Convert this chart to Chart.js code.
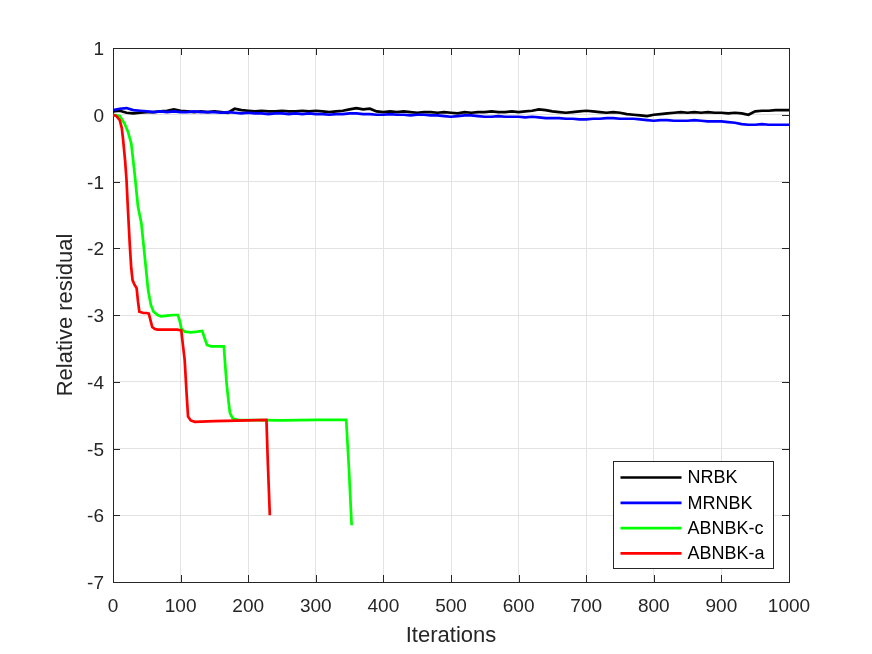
<!DOCTYPE html>
<html><head><meta charset="utf-8">
<script src="https://cdn.jsdelivr.net/npm/chart.js@4"></script>
<style>html,body{margin:0;padding:0;background:#fff}canvas{display:block}</style>
</head><body>
<canvas id="c" width="872" height="654" style="width:872px;height:654px"></canvas>
<script>
const seriesNames = ['NRBK', 'MRNBK', 'ABNBK-c', 'ABNBK-a'];
const seriesColors = ['#000000', '#0000ff', '#00ff00', '#ff0000'];
const xTicks = [0, 100, 200, 300, 400, 500, 600, 700, 800, 900, 1000];
const yTicks = [-7, -6, -5, -4, -3, -2, -1, 0, 1];
const xLabel = 'Iterations';
const yLabel = 'Relative residual';

const iterX = [0,10,20,30,40,50,60,70,80,90,100,110,120,130,140,150,160,170,180,190,
  200,210,220,230,240,250,260,270,280,290,300,310,320,330,340,350,360,370,380,390,
  400,410,420,430,440,450,460,470,480,490,500,510,520,530,540,550,560,570,580,590,
  600,610,620,630,640,650,660,670,680,690,700,710,720,730,740,750,760,770,780,790,
  800,810,820,830,840,850,860,870,880,890,900,910,920,930,940,950,960,970,980,990,1000];
const nrbkY = [0.05,0.06,0.03,0.02,0.03,0.04,0.04,0.05,0.06,0.08,0.06,0.05,0.04,0.05,0.04,0.05,0.04,0.03,0.09,0.07,
  0.06,0.05,0.06,0.05,0.05,0.06,0.05,0.05,0.06,0.05,0.06,0.05,0.04,0.05,0.06,0.08,0.10,0.08,0.09,0.05,
  0.04,0.05,0.04,0.05,0.04,0.03,0.04,0.04,0.03,0.04,0.03,0.02,0.04,0.03,0.04,0.04,0.05,0.04,0.04,0.05,
  0.04,0.05,0.06,0.08,0.07,0.05,0.04,0.03,0.04,0.05,0.06,0.05,0.04,0.03,0.04,0.03,0.01,0.00,-0.01,-0.02,
  0.00,0.01,0.02,0.03,0.04,0.03,0.04,0.03,0.04,0.03,0.03,0.02,0.03,0.02,0.00,0.05,0.06,0.06,0.07,0.07,0.07];
const mrnbkY = [0.07,0.09,0.10,0.07,0.06,0.05,0.04,0.05,0.04,0.05,0.04,0.04,0.05,0.04,0.04,0.04,0.03,0.04,0.03,0.02,
  0.03,0.02,0.02,0.01,0.02,0.02,0.01,0.02,0.01,0.02,0.01,0.01,0.00,0.01,0.01,0.02,0.02,0.01,0.01,0.00,
  0.00,0.01,0.00,0.00,-0.01,0.00,0.00,-0.01,-0.01,-0.02,-0.03,-0.02,-0.01,-0.01,-0.02,-0.03,-0.03,-0.02,-0.03,-0.03,
  -0.03,-0.04,-0.03,-0.04,-0.05,-0.05,-0.05,-0.06,-0.06,-0.07,-0.07,-0.06,-0.06,-0.05,-0.05,-0.06,-0.06,-0.06,-0.07,-0.08,
  -0.09,-0.08,-0.08,-0.09,-0.09,-0.09,-0.08,-0.09,-0.10,-0.10,-0.10,-0.11,-0.12,-0.14,-0.15,-0.15,-0.14,-0.15,-0.15,-0.15,-0.15];
const abnbkcX = [0,10,17,22,27,32,37,42,47,52,56,60,66,71,80,90,96,99,101,106,115,125,132,135,139,145,155,164,166,168,171,173,177,185,250,300,345,349,353];
const abnbkcY = [0,-0.02,-0.13,-0.25,-0.43,-0.88,-1.38,-1.63,-2.13,-2.63,-2.85,-2.95,-3.0,-3.02,-3.01,-3.0,-3.0,-3.1,-3.2,-3.25,-3.26,-3.25,-3.24,-3.33,-3.45,-3.47,-3.47,-3.47,-3.75,-4.02,-4.3,-4.47,-4.55,-4.57,-4.58,-4.57,-4.57,-5.3,-6.15];
const abnbkaX = [0,5,10,13,15,18,20,22,25,27,29,32,35,37,39,45,50,53,56,58,62,66,80,95,101,104,106,109,111,115,121,150,200,227,229,232];
const abnbkaY = [0,-0.02,-0.08,-0.2,-0.38,-0.7,-0.98,-1.4,-1.98,-2.3,-2.48,-2.55,-2.6,-2.8,-2.95,-2.97,-2.97,-2.98,-3.1,-3.18,-3.21,-3.22,-3.22,-3.22,-3.23,-3.5,-3.67,-4.2,-4.52,-4.58,-4.6,-4.59,-4.58,-4.57,-5.2,-6.0];

const FONT = "'Liberation Sans', Arial, Helvetica, sans-serif";
const AX = '#262626';
const pts = (xs, ys) => xs.map((v, i) => ({x: v, y: ys[i]}));
const seriesData = [pts(iterX, nrbkY), pts(iterX, mrnbkY), pts(abnbkcX, abnbkcY), pts(abnbkaX, abnbkaY)];

const matlabAxes = {
  id: 'matlabAxes',
  beforeDatasetsDraw(chart) {
    const {ctx, chartArea: a, scales: {x, y}} = chart;
    ctx.save();
    ctx.strokeStyle = AX; ctx.lineWidth = 1;
    ctx.beginPath();
    const tl = 7;
    xTicks.forEach(v => {
      const p = Math.round(x.getPixelForValue(v)) + 0.5;
      ctx.moveTo(p, a.bottom); ctx.lineTo(p, a.bottom - tl);
      ctx.moveTo(p, a.top); ctx.lineTo(p, a.top + tl);
    });
    yTicks.forEach(v => {
      const p = Math.round(y.getPixelForValue(v)) + 0.5;
      ctx.moveTo(a.left, p); ctx.lineTo(a.left + tl, p);
      ctx.moveTo(a.right, p); ctx.lineTo(a.right - tl, p);
    });
    ctx.stroke();
    ctx.strokeRect(Math.round(a.left) + 0.5, Math.round(a.top) + 0.5, Math.round(a.right - a.left), Math.round(a.bottom - a.top));
    ctx.restore();
  }
};

const boxLegend = {
  id: 'boxLegend',
  afterDraw(chart) {
    const {ctx, chartArea: a} = chart;
    const w = 160, h = 107;
    const bx = Math.round(a.right - 16 - w) + 0.5, by = Math.round(a.bottom - 14 - h) + 0.5;
    ctx.save();
    ctx.fillStyle = '#ffffff';
    ctx.fillRect(bx, by, w, h);
    ctx.strokeStyle = AX; ctx.lineWidth = 1;
    ctx.strokeRect(bx, by, w, h);
    ctx.font = '18px ' + FONT;
    ctx.textBaseline = 'middle';
    ctx.textAlign = 'left';
    chart.data.datasets.forEach((ds, i) => {
      const ry = by + 16 + i * 25.3;
      ctx.strokeStyle = ds.borderColor; ctx.lineWidth = 2.7;
      ctx.beginPath(); ctx.moveTo(bx + 7, ry); ctx.lineTo(bx + 68, ry); ctx.stroke();
      ctx.fillStyle = '#000000';
      ctx.fillText(ds.label, bx + 74, ry + 1);
    });
    ctx.restore();
  }
};

new Chart(document.getElementById('c'), {
  type: 'line',
  data: {
    datasets: seriesNames.map((n, i) => ({
      label: n,
      data: seriesData[i],
      borderColor: seriesColors[i],
      backgroundColor: seriesColors[i],
      borderWidth: 2.7,
      pointRadius: 0,
      tension: 0,
      fill: false,
      order: 3 - i
    }))
  },
  options: {
    responsive: false,
    animation: false,
    devicePixelRatio: 1,
    layout: {padding: {top: 48, right: 83, left: 0, bottom: 0}},
    plugins: {legend: {display: false}, tooltip: {enabled: false}},
    scales: {
      x: {
        type: 'linear', min: 0, max: 1000,
        afterBuildTicks(s) { s.ticks = xTicks.map(v => ({value: v})); },
        grid: {color: '#e3e3e3', drawTicks: false, lineWidth: 1},
        border: {display: false},
        ticks: {padding: 13, autoSkip: false, maxRotation: 0, color: AX, font: {family: FONT, size: 19}, callback: v => String(v)},
        title: {display: true, text: xLabel, color: AX, font: {family: FONT, size: 22}, padding: {top: 0, bottom: 5}},
        afterFit(s) { s.height = 72; }
      },
      y: {
        type: 'linear', min: -7, max: 1,
        afterBuildTicks(s) { s.ticks = yTicks.map(v => ({value: v})); },
        grid: {color: '#e3e3e3', drawTicks: false, lineWidth: 1},
        border: {display: false},
        ticks: {padding: 9, labelOffset: 2, autoSkip: false, color: AX, font: {family: FONT, size: 19}, callback: v => String(v)},
        title: {display: true, text: yLabel, color: AX, font: {family: FONT, size: 22}, padding: {top: 53, bottom: 0}},
        afterFit(s) { s.width = 113; }
      }
    }
  },
  plugins: [matlabAxes, boxLegend]
});
</script>
</body></html>
